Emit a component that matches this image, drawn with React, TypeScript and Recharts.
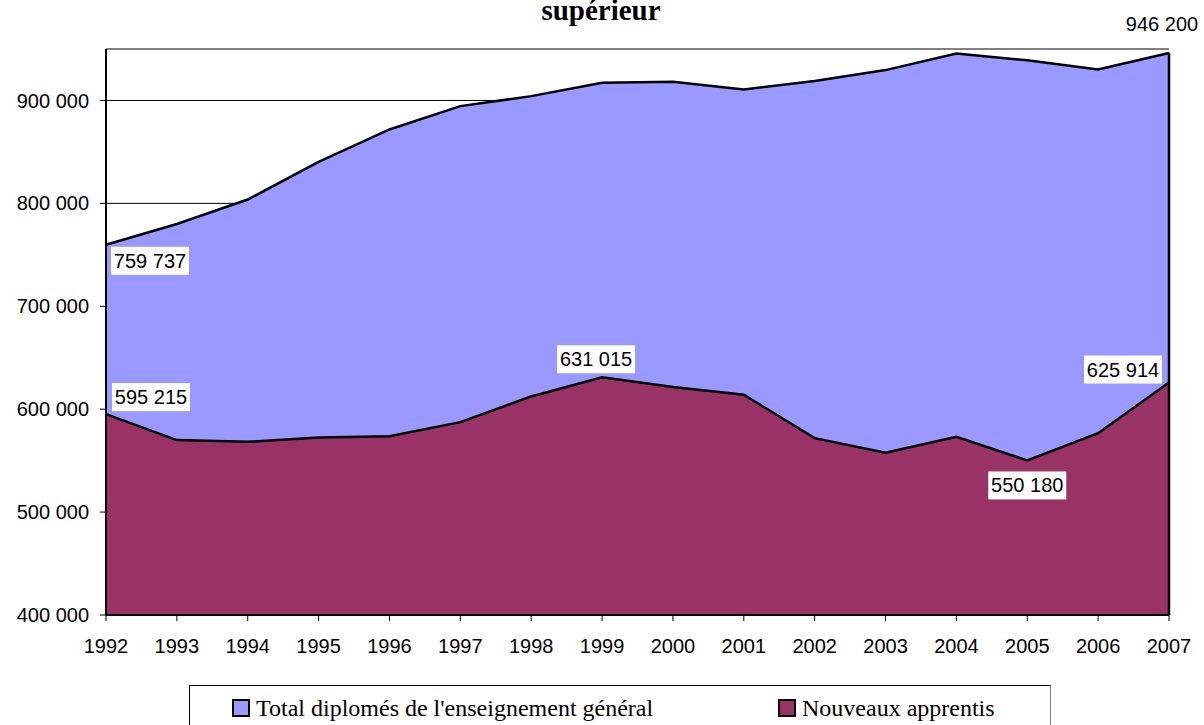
import React from "react";
import {
    AreaChart,
    Area,
    XAxis,
    YAxis,
    CartesianGrid,
    LabelList,
    Legend,
    ReferenceLine
} from "recharts";

const YEARS = ['1992', '1993', '1994', '1995', '1996', '1997', '1998', '1999', '2000', '2001', '2002', '2003', '2004', '2005', '2006', '2007'];

const TOTAL_GENERAL = [759737, 780000, 803700, 840400, 871800, 894500, 904200, 917200, 918200, 910700, 919000, 929500, 945700, 939000, 930000, 946200];

const NOUVEAUX_APPRENTIS = [595215, 570000, 568300, 572500, 573800, 587400, 612400, 631015, 621500, 614000, 571900, 557600, 573200, 550180, 576700, 625914];

const Y_TICKS = [400000, 500000, 600000, 700000, 800000, 900000];

const SERIES_NAMES = ["Total diplomés de l'enseignement général", 'Nouveaux apprentis'];

// which points carry a value label
const TOTAL_LABELED = [0, 15];
const APPRENTIS_LABELED = [0, 7, 13, 15];

const data = YEARS.map((year, i) => ({
    year,
    total: TOTAL_GENERAL[i],
    apprentis: NOUVEAUX_APPRENTIS[i]
}));

const fmt = (v: number) => String(Math.round(v)).replace(/\B(?=(\d{3})+(?!\d))/g, ' ');

const SANS = '"Liberation Sans", Arial, sans-serif';
const SERIF = '"Liberation Serif", "Times New Roman", serif';

// label centre offsets relative to the data point
const TOTAL_OFFSETS: Record<number, [number, number, boolean]> = {
    0: [44, 16, true],
    15: [-7, -29, false]
};
const APPRENTIS_OFFSETS: Record<number, [number, number, boolean]> = {
    0: [45, -17, true],
    7: [-6, -18, true],
    13: [0, 25, true],
    15: [-46, -13, true]
};

function makeLabel(labeled: number[], offsets: Record<number, [number, number, boolean]>) {
    return (props: any) => {
        const { x, y, value, index } = props;
        if (!labeled.includes(index)) return <g />;
        const [dx, dy, box] = offsets[index];
        const cx = x + dx;
        const cy = y + dy;
        const text = fmt(value);
        const w = 78;
        const h = 28;
        return (
            <g>
                {box && <rect x={cx - w / 2} y={cy - h / 2} width={w} height={h} fill="#ffffff" />}
                <text
                    x={cx}
                    y={cy}
                    textAnchor="middle"
                    dominantBaseline="central"
                    fontFamily={SANS}
                    fontSize={20}
                    fill="#000"
                >
                    {text}
                </text>
            </g>
        );
    };
}

function LegendBox() {
    const colors = ['#9999FF', '#993366'];
    const lefts = [42, 588];
    return (
        <div
            style={{
                position: 'relative',
                width: 862,
                height: 40,
                borderTop: '1px solid #000',
                borderLeft: '1px solid #000',
                borderRight: '1px solid #808080',
                boxSizing: 'border-box',
                fontFamily: SERIF,
                fontSize: 24,
                color: '#000'
            }}
        >
            {SERIES_NAMES.map((name, i) => (
                <div
                    key={name}
                    style={{ position: 'absolute', left: lefts[i], top: 10, display: 'flex', alignItems: 'center', whiteSpace: 'nowrap' }}
                >
                    <span
                        style={{
                            display: 'inline-block',
                            width: 14,
                            height: 14,
                            background: colors[i],
                            border: '2px solid #000',
                            marginRight: 6
                        }}
                    />
                    <span style={{ lineHeight: '24px' }}>{name}</span>
                </div>
            ))}
        </div>
    );
}

export default function App() {
    return (
        <div style={{ position: 'absolute', left: 0, top: 0, width: 1204, height: 725, background: '#fff', overflow: 'hidden' }}>
            <div
                style={{
                    position: 'absolute',
                    left: 0,
                    width: 1204,
                    top: -4,
                    textAlign: 'center',
                    fontFamily: SERIF,
                    fontWeight: 'bold',
                    fontSize: 29,
                    lineHeight: '29px'
                }}
            >
                <span style={{ position: 'relative', left: -1 }}>supérieur</span>
            </div>
            <AreaChart
                width={1204}
                height={725}
                data={data}
                margin={{ top: 49, right: 35, left: 0, bottom: 40 }}
            >
                <CartesianGrid vertical={false} stroke="#000" strokeOpacity={1} />
                <XAxis
                    dataKey="year"
                    tick={{ fontSize: 20, fill: '#000', fontFamily: SANS }}
                    tickSize={6}
                    tickMargin={18}
                    axisLine={{ stroke: '#000', strokeWidth: 2 }}
                    tickLine={{ stroke: '#000' }}
                    interval={0}
                    height={30}
                />
                <YAxis
                    type="number"
                    domain={[400000, 950000]}
                    ticks={Y_TICKS}
                    tickFormatter={fmt}
                    tick={{ fontSize: 20, fill: '#000', fontFamily: SANS }}
                    tickSize={6}
                    tickMargin={11}
                    width={106}
                    axisLine={{ stroke: '#000', strokeWidth: 2 }}
                    tickLine={{ stroke: '#000' }}
                    allowDataOverflow
                />
                <ReferenceLine y={950000} stroke="#808080" strokeWidth={2} />
                <Area
                    type="linear"
                    dataKey="total"
                    name={SERIES_NAMES[0]}
                    fill="#9999FF"
                    fillOpacity={1}
                    stroke="#000"
                    strokeWidth={2.5}
                    isAnimationActive={false}
                >
                    <LabelList dataKey="total" content={makeLabel(TOTAL_LABELED, TOTAL_OFFSETS)} />
                </Area>
                <Area
                    type="linear"
                    dataKey="apprentis"
                    name={SERIES_NAMES[1]}
                    fill="#993366"
                    fillOpacity={1}
                    stroke="#000"
                    strokeWidth={2.5}
                    isAnimationActive={false}
                >
                    <LabelList dataKey="apprentis" content={makeLabel(APPRENTIS_LABELED, APPRENTIS_OFFSETS)} />
                </Area>
                <ReferenceLine
                    segment={[{ x: '2007', y: 400000 }, { x: '2007', y: 946200 }]}
                    stroke="#000"
                    strokeWidth={2.5}
                />
                <Legend
                    content={() => <LegendBox />}
                    wrapperStyle={{ position: 'absolute', left: 189, top: 685, width: 862, height: 40, bottom: 'auto' }}
                />
            </AreaChart>
        </div>
    );
}
